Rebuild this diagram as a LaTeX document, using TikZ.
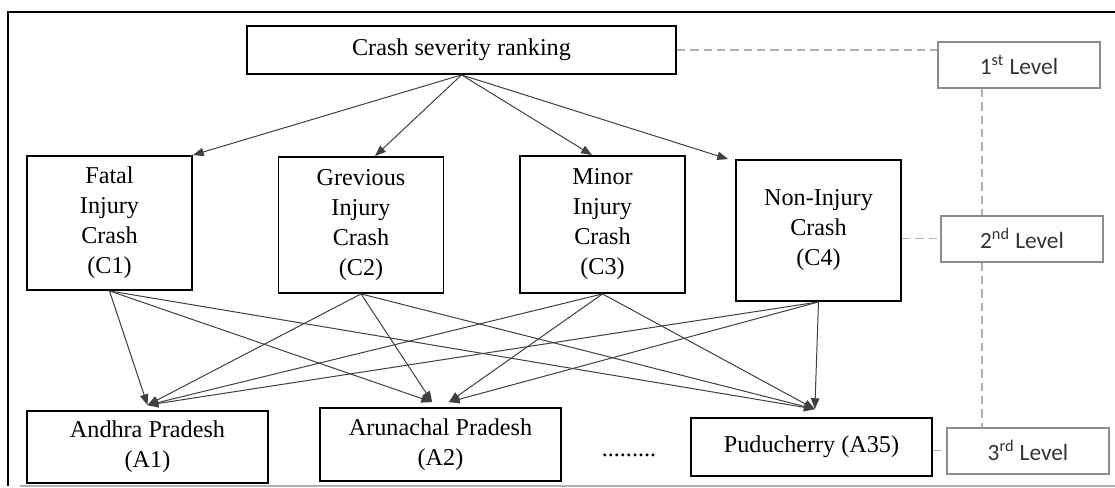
\documentclass[tikz,border=0pt]{standalone}
\usepackage{fontspec}
\setmainfont{Liberation Serif}
\newfontfamily\lvlfont{Carlito}
\usetikzlibrary{arrows.meta}

\begin{document}
\begin{tikzpicture}[x=0.6pt, y=-0.6pt,
  every node/.style={font=\fontsize{14.5}{18}\selectfont, align=center},
  box/.style={draw, line width=1.1pt, inner sep=2pt},
  lvl/.style={draw=black!45, line width=1.2pt, minimum width=97.2pt, minimum height=27.6pt,
    font=\lvlfont\fontsize{14}{16}\selectfont, text=black!80},
  arr/.style={-{Triangle[length=6.5pt,width=5pt]}, draw=black!75, line width=0.6pt},
  lvlline/.style={draw=black!30, line width=0.8pt, dash pattern=on 5pt off 3pt}]

  \useasboundingbox (0,0) rectangle (1115,488);

  %% Frame
  \draw[line width=1pt] (8,486) -- (8,12) -- (1115,12);
  \draw[black!30, line width=1.2pt] (20,486) -- (1115,486);

  %% Goal
  \node[box, minimum width=257.4pt, minimum height=28.8pt] (rank) at (461.5,50) {Crash severity ranking};

  %% Criteria
  \node[box, minimum width=99pt, minimum height=80.4pt] (c1) at (109.5,223) {Fatal\\Injury\\Crash\\(C1)};
  \node[box, minimum width=99pt, minimum height=81.6pt] (c2) at (361,225) {Grevious\\Injury\\Crash\\(C2)};
  \node[box, minimum width=99pt, minimum height=82.2pt] (c3) at (602.5,224.5) {Minor\\Injury\\Crash\\(C3)};
  \node[box, minimum width=99pt, minimum height=84.6pt] (c4) at (818.5,230.5) {Non-Injury\\Crash\\(C4)};

  %% Alternatives
  \node[box, minimum width=144.6pt, minimum height=43.2pt] (a1) at (147.5,447) {Andhra Pradesh\\(A1)};
  \node[box, minimum width=144.6pt, minimum height=43.8pt] (a2) at (440.5,444.5) {Arunachal Pradesh\\(A2)};
  \node[box, minimum width=144.6pt, minimum height=34.8pt] (a35) at (811.5,447) {Puducherry (A35)};
  \node (dots) at (629,455) {.........};

  %% Level tags on the right
  \node[lvl] (l1) at (1019,65) {1\textsuperscript{st} Level};
  \node[lvl] (l2) at (1022,238.5) {2\textsuperscript{nd} Level};
  \node[lvl] (l3) at (1028,450.5) {3\textsuperscript{rd} Level};

  % dashed guides
  \coordinate (spine) at (982,0);
  \draw[lvlline] (rank.east) -- (rank.east -| l1.west);
  \draw[lvlline] (l2.west -| c4.east) -- (l2.west);
  \draw[lvlline] (l3.west -| a35.east) -- (l3.west);
  \draw[lvlline] (l1.south -| spine) -- (l2.north -| spine);
  \draw[lvlline] (l2.south -| spine) -- (l3.north -| spine);

  %% Goal -> criteria
  \draw[arr] (rank.south) -- (c1.north east);
  \draw[arr] (rank.south) -- ([xshift=8.4pt]c2.north);
  \draw[arr] (rank.south) -- ([xshift=-6.3pt]c3.north);
  \draw[arr] (rank.south) -- ([xshift=-4.2pt]c4.north west);

  %% Criteria -> alternatives
  \foreach \src/\off in {c1/-5pt, c2/-5pt, c3/5pt, c4/5pt} {
    \draw[arr] (\src.south) -- ([yshift=3pt]a1.north);
    \draw[arr] (\src.south) -- ([xshift=\off, yshift=3pt]a2.north);
    \draw[arr] (\src.south) -- ([xshift=2pt, yshift=4.8pt]a35.north);
  }

\end{tikzpicture}
\end{document}
